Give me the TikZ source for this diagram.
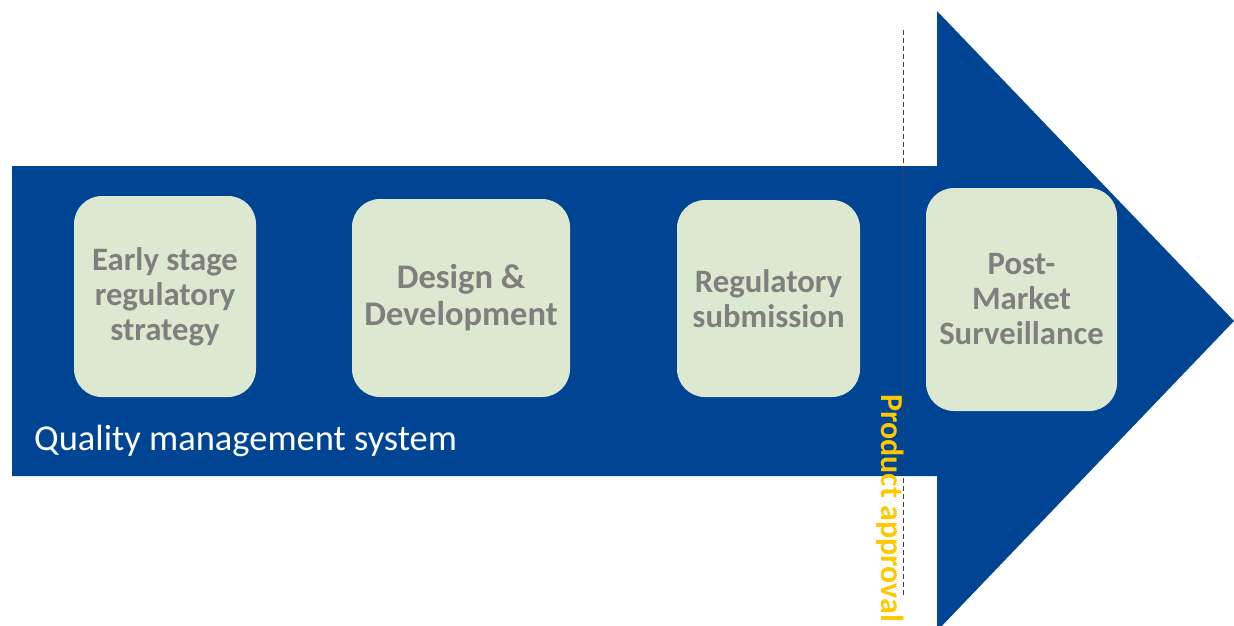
\documentclass[tikz,border=0pt]{standalone}
\usepackage{fontspec}
\setmainfont{Carlito}
\definecolor{flowblue}{HTML}{004494}
\definecolor{stagefill}{HTML}{DCE9D0}
\definecolor{stagetext}{HTML}{7F7F7F}
\definecolor{approval}{HTML}{FFC800}
\begin{document}
\begin{tikzpicture}[x=1pt,y=-1pt,
  stage/.style={fill=stagefill, rounded corners=28pt, align=center,
    text=stagetext, font=\fontsize{32.7}{35}\selectfont\bfseries,
    inner sep=0pt},
]
\useasboundingbox (0,0) rectangle (1234,625);
% main process arrow
\fill[flowblue] (12,166) -- (937,166) -- (937,11) -- (1234,321)
  -- (937,631) -- (937,476) -- (12,476) -- cycle;
% stage boxes
\node[stage, minimum width=182pt, minimum height=201pt] (early) at (165,296.5)
  {Early stage\\regulatory\\strategy};
\node[stage, minimum width=218pt, minimum height=198pt,
  font=\fontsize{34.5}{37}\selectfont\bfseries] (design) at (461,298)
  {Design \&\\Development};
\node[stage, minimum width=183pt, minimum height=197pt] (submit) at (768.5,298.5)
  {Regulatory\\submission};
\node[stage, minimum width=191pt, minimum height=223pt] (pms) at (1021.5,299.5)
  {Post-\\Market\\Surveillance};
% approval milestone
\coordinate (mtop) at (903,30);
\coordinate (mbot) at (903,596);
\draw[black!75, line width=1pt, dash pattern=on 5pt off 3pt] (mtop) -- (mbot);
\node[anchor=north west, rotate=-90, inner sep=0pt, text=approval,
  font=\fontsize{32}{38}\selectfont\bfseries] (approval) at (904,394)
  {Product approval};
\node[anchor=west, text=white, inner sep=0pt,
  font=\fontsize{36.5}{42}\selectfont] (qms) at (34,441)
  {Quality management system};
\end{tikzpicture}
\end{document}
